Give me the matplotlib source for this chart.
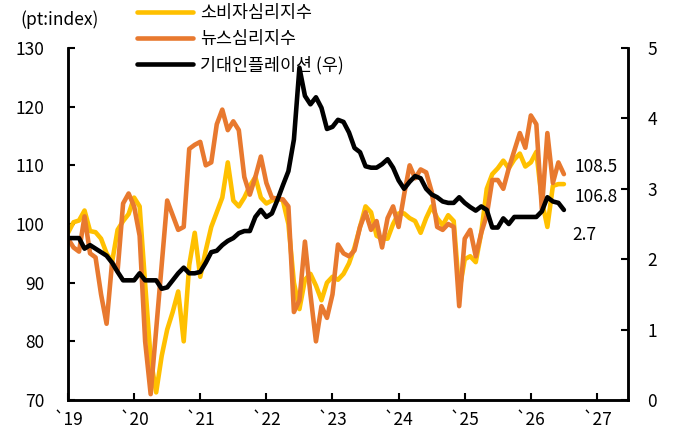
import numpy as np
import matplotlib.pyplot as plt

plt.rcParams['font.family'] = ['Noto Sans CJK KR', 'DejaVu Sans']

# 월별 데이터 (2019.01 ~ 2026.07)
consumer = [98.5, 100.3, 100.6, 102.3, 98.8, 98.6, 97.5, 95.0, 93.5, 99.0,
            100.5, 101.7, 104.5, 103.0, 89.8, 77.0, 71.3, 77.5, 82.0, 85.0,
            88.5, 80.0, 93.0, 98.5, 91.0, 95.5, 99.5, 102.0, 104.5, 110.5,
            104.0, 103.0, 104.5, 106.5, 108.0, 104.5, 103.5, 104.0, 104.4, 104.0,
            100.0, 90.0, 85.5, 90.5, 91.5, 89.5, 87.0, 90.0, 91.0, 90.5,
            91.5, 93.3, 96.0, 99.5, 103.0, 102.0, 98.0, 97.5, 97.5, 100.0,
            101.8, 101.8, 101.0, 100.5, 98.5, 101.0, 103.0, 101.0, 99.8, 101.5,
            100.5, 88.5, 94.0, 94.5, 93.5, 98.5, 106.0, 108.5, 109.5, 110.8,
            109.5, 111.0, 112.0, 109.8, 110.5, 112.3, 104.0, 99.5, 106.5, 106.8,
            106.8]
news = [97.5, 96.0, 95.3, 101.3, 95.0, 94.3, 88.0, 83.0, 93.5, 92.0,
        103.5, 105.2, 103.0, 98.0, 80.0, 71.0, 82.0, 93.0, 104.0, 101.5,
        99.0, 99.5, 112.8, 113.5, 114.0, 110.0, 110.5, 117.0, 119.5, 116.0,
        117.5, 116.0, 108.0, 105.0, 108.0, 111.5, 107.0, 104.5, 104.3, 104.2,
        103.0, 85.0, 87.0, 97.0, 88.0, 80.0, 86.0, 84.0, 88.0, 96.5,
        95.0, 94.5, 95.5, 99.5, 102.0, 99.0, 100.5, 96.0, 101.0, 103.0,
        99.5, 105.0, 110.0, 107.8, 109.3, 108.8, 105.5, 99.5, 99.0, 100.0,
        99.5, 86.0, 97.5, 99.0, 94.5, 98.5, 101.5, 107.5, 107.5, 106.0,
        109.5, 112.5, 115.5, 113.0, 118.5, 117.0, 102.5, 115.5, 107.0, 110.5,
        108.5]
expect_infl = [2.3, 2.3, 2.3, 2.15, 2.2, 2.15, 2.1, 2.05, 1.95, 1.82,
               1.7, 1.7, 1.7, 1.8, 1.7, 1.7, 1.7, 1.58, 1.6, 1.7,
               1.8, 1.88, 1.8, 1.8, 1.82, 1.95, 2.1, 2.12, 2.2, 2.26,
               2.3, 2.37, 2.4, 2.4, 2.6, 2.7, 2.6, 2.65, 2.84, 3.05,
               3.25, 3.7, 4.72, 4.32, 4.2, 4.3, 4.15, 3.85, 3.88, 3.98,
               3.95, 3.8, 3.58, 3.52, 3.32, 3.3, 3.3, 3.35, 3.42, 3.3,
               3.12, 3.0, 3.1, 3.18, 3.15, 3.0, 2.92, 2.88, 2.82, 2.8,
               2.8, 2.88, 2.8, 2.74, 2.69, 2.75, 2.7, 2.45, 2.45, 2.58,
               2.5, 2.6, 2.6, 2.6, 2.6, 2.6, 2.68, 2.88, 2.82, 2.8,
               2.7]
years = list(range(2019, 2028))
year_labels = ['`' + str(y)[2:] for y in years]
labels = ['소비자심리지수', '뉴스심리지수', '기대인플레이션 (우)']

x = 2019 + np.arange(len(consumer)) / 12

fig = plt.figure(figsize=(6.74, 4.42), dpi=100)
ax = fig.add_axes([0.1009, 0.095, 0.8309, 0.7964])
ax2 = ax.twinx()

YELLOW = '#FFC000'
ORANGE = '#E8792F'
lw = 3.3

l1, = ax.plot(x, consumer, color=YELLOW, lw=lw, solid_capstyle='round', solid_joinstyle='round')
l2, = ax.plot(x, news, color=ORANGE, lw=lw, solid_capstyle='round', solid_joinstyle='round')
l3, = ax2.plot(x, expect_infl, color='black', lw=lw, solid_capstyle='round', solid_joinstyle='round')

ax.set_xlim(2019, 2027.47)
ax.set_ylim(70, 130)
ax2.set_ylim(0, 5)
ax.set_xticks(years)
ax.set_xticklabels(year_labels)
ax.set_yticks(range(70, 131, 10))
ax2.set_yticks(range(0, 6))

for a in (ax, ax2):
    a.spines['top'].set_visible(False)
    for s in a.spines.values():
        s.set_linewidth(1.8)
ax.tick_params(axis='y', direction='in', length=5, width=1.5, pad=17, labelsize=12.5)
ax.tick_params(axis='x', direction='in', length=5, width=1.5, pad=8, labelsize=12.5)
ax2.tick_params(axis='y', direction='in', length=5, width=1.5, pad=14, labelsize=12.5)

# 마지막 값 표시
ax.text(2026.66, news[-1] + 1.3, '108.5', fontsize=12.5, va='center', ha='left')
ax.text(2026.66, consumer[-1] - 2.2, '106.8', fontsize=12.5, va='center', ha='left')
ax2.text(2026.62, expect_infl[-1] - 0.35, '2.7', fontsize=12.5, va='center', ha='left')

fig.text(20 / 674, 1 - 20 / 442, '(pt:index)', fontsize=12.5, va='center', ha='left')

fig.legend([l1, l2, l3], labels, loc='upper left', bbox_to_anchor=(130 / 674, 1 + 3 / 442),
           frameon=False, fontsize=12.5, handlelength=3.2, handletextpad=0.45,
           labelspacing=0.45, borderaxespad=0)

plt.savefig('out.png', dpi=100)
